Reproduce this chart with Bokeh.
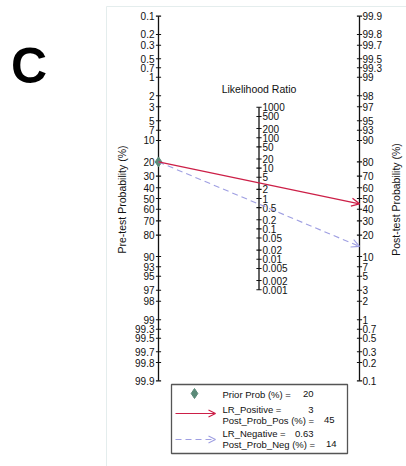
import numpy as np
from bokeh.plotting import figure
from bokeh.models import Range1d, Arrow, OpenHead
from bokeh.core.properties import value
from bokeh.embed import file_html
from bokeh.resources import INLINE

# ---------------- data ----------------
prob_ticks = [0.1, 0.2, 0.3, 0.5, 0.7, 1, 2, 3, 5, 7, 10, 20, 30, 40, 50, 60, 70,
              80, 90, 93, 95, 97, 98, 99, 99.3, 99.5, 99.7, 99.8, 99.9]
prob_labels = ["0.1", "0.2", "0.3", "0.5", "0.7", "1", "2", "3", "5", "7", "10",
               "20", "30", "40", "50", "60", "70", "80", "90", "93", "95", "97",
               "98", "99", "99.3", "99.5", "99.7", "99.8", "99.9"]
lr_ticks = [1000, 500, 200, 100, 50, 20, 10, 5, 2, 1, 0.5, 0.2, 0.1, 0.05, 0.02,
            0.01, 0.005, 0.002, 0.001]
lr_labels = ["1000", "500", "200", "100", "50", "20", "10", "5", "2", "1", "0.5",
             "0.2", "0.1", "0.05", "0.02", "0.01", "0.005", "0.002", "0.001"]
prior_prob = 20
lr_positive = 3
post_prob_pos = 45
lr_negative = 0.63
post_prob_neg = 14

# ---------------- layout helpers ----------------
W, H = 406, 466
AXL = 158.0          # left axis x (px)
SX = 201.0           # px per x unit (left axis -> right axis)
CY = 198.0           # y (px from top) of logit 0
SY = 26.4            # px per logit unit


def dx(px):  # page px -> data x
    return (px - AXL) / SX


def dy(py):  # page px -> data y
    return (CY - py) / SY


def logit(pct):
    p = np.asarray(pct, dtype=float) / 100.0
    return np.log(p / (1 - p))


FONT = value("Liberation Sans")
FS = "10px"
TXT = "#111111"
RED = "#cc1f47"
BLUE = "#9f9fe2"
GREEN = "#5b8a78"

p = figure(width=W, height=H, x_range=Range1d(dx(0), dx(W)),
           y_range=Range1d(dy(H), dy(0)), min_border=0,
           x_axis_location=None, y_axis_location=None,
           toolbar_location=None, output_backend="svg")
p.grid.visible = False
p.outline_line_color = None
p.background_fill_color = "white"
p.border_fill_color = "white"

# faint frame lines
p.segment(x0=[dx(106), dx(106)], y0=[dy(6), dy(6)], x1=[dx(106), dx(410)],
          y1=[dy(470), dy(6)], line_color="#e4eded", line_width=1)

# ---------------- axes ----------------
y_left = -logit(prob_ticks)
y_right = logit(prob_ticks)
y_lr = np.log(np.asarray(lr_ticks, dtype=float)) / 2.0
tk = 2.6 / SX
AXC = "#111111"

for xa, ys in [(0.0, y_left), (1.0, y_right), (0.5, y_lr)]:
    p.segment(x0=[xa], y0=[ys.min()], x1=[xa], y1=[ys.max()],
              line_color=AXC, line_width=1.3)
    p.segment(x0=[xa - tk] * len(ys), y0=list(ys), x1=[xa + tk] * len(ys),
              y1=list(ys), line_color=AXC, line_width=1.1)

p.text(x=[0.0] * len(prob_ticks), y=list(y_left), text=prob_labels,
       x_offset=-4.0, text_align="right", text_baseline="middle",
       text_font=FONT, text_font_size=FS, text_color=TXT)
p.text(x=[1.0] * len(prob_ticks), y=list(y_right), text=prob_labels,
       x_offset=3.0, text_align="left", text_baseline="middle",
       text_font=FONT, text_font_size=FS, text_color=TXT)
p.text(x=[0.5] * len(lr_ticks), y=list(y_lr), text=lr_labels,
       x_offset=3.5, text_align="left", text_baseline="middle",
       text_font=FONT, text_font_size=FS, text_color=TXT)

p.text(x=[0.5], y=[dy(88.5)], text=["Likelihood Ratio"], text_align="center",
       text_baseline="middle", text_font=FONT, text_font_size="10.5px",
       text_color=TXT)
p.text(x=[dx(121.5)], y=[dy(199)], text=["Pre-test Probability (%)"],
       angle=np.pi / 2, text_align="center", text_baseline="middle",
       text_font=FONT, text_font_size="10.5px", text_color=TXT)
p.text(x=[dx(395.5)], y=[dy(199)], text=["Post-test Probability (%)"],
       angle=np.pi / 2, text_align="center", text_baseline="middle",
       text_font=FONT, text_font_size="10.5px", text_color=TXT)

p.text(x=[dx(10.5)], y=[dy(65)], text=["C"], text_align="left",
       text_baseline="alphabetic", text_font=FONT, text_font_style="bold",
       text_font_size="50px", text_color="black")

# ---------------- nomogram lines ----------------
y_pre = float(-logit(prior_prob))
y_pos = float(logit(post_prob_pos))
y_neg = float(logit(post_prob_neg))

p.add_layout(Arrow(end=OpenHead(size=8, line_color=BLUE, line_width=1.1),
                   x_start=0.0, y_start=y_pre, x_end=1.0, y_end=y_neg,
                   line_color=BLUE, line_width=1.1, line_dash="6 4"))
p.add_layout(Arrow(end=OpenHead(size=8, line_color=RED, line_width=1.3),
                   x_start=0.0, y_start=y_pre, x_end=1.0, y_end=y_pos,
                   line_color=RED, line_width=1.3))
p.scatter(x=[0.0], y=[y_pre], marker="diamond", size=10, fill_color=GREEN,
          line_color=GREEN)

# ---------------- legend ----------------
p.quad(left=[dx(171)], right=[dx(347)], top=[dy(384)], bottom=[dy(453)],
       fill_color="white", line_color="#555555", line_width=1.3)
p.scatter(x=[dx(194)], y=[dy(393)], marker="diamond", size=10,
          fill_color=GREEN, line_color=GREEN)
p.add_layout(Arrow(end=OpenHead(size=7, line_color=RED, line_width=1.2),
                   x_start=dx(175), y_start=dy(413), x_end=dx(215), y_end=dy(413),
                   line_color=RED, line_width=1.2))
p.add_layout(Arrow(end=OpenHead(size=7, line_color=BLUE, line_width=1.1),
                   x_start=dx(175), y_start=dy(439), x_end=dx(215), y_end=dy(439),
                   line_color=BLUE, line_width=1.1, line_dash="6 4"))

leg_left = ["Prior Prob (%) =", "LR_Positive =", "Post_Prob_Pos (%) =",
            "LR_Negative =", "Post_Prob_Neg (%) ="]
leg_y = [393.5, 409, 419.5, 433, 443.5]
leg_vals = [f"{prior_prob:g}", f"{lr_positive:g}", f"{post_prob_pos:g}",
            f"{lr_negative:g}", f"{post_prob_neg:g}"]
leg_vx = [313, 313, 334, 313, 336]
p.text(x=[dx(222)] * 5, y=[dy(v) for v in leg_y], text=leg_left,
       text_align="left", text_baseline="middle", text_font=FONT,
       text_font_size="9.5px", text_color=TXT)
p.text(x=[dx(v) for v in leg_vx], y=[dy(v) for v in leg_y], text=leg_vals,
       text_align="right", text_baseline="middle", text_font=FONT,
       text_font_size="9.5px", text_color=TXT)

open("out.html", "w").write(file_html(p, INLINE))
